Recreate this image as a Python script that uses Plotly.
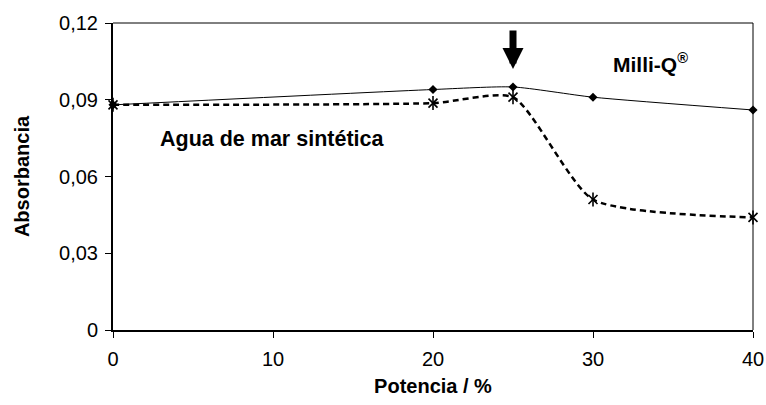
import plotly.graph_objects as go

# Potencia (%) y absorbancia medida
potencia = [0, 20, 25, 30, 40]
abs_milliq = [0.088, 0.094, 0.095, 0.091, 0.086]
abs_agua_mar = [0.088, 0.0887, 0.091, 0.051, 0.044]

y_ticks = [0, 0.03, 0.06, 0.09, 0.12]
y_tick_text = ["0", "0,03", "0,06", "0,09", "0,12"]
x_ticks = [0, 10, 20, 30, 40]

FONT = "Liberation Sans, Arial, sans-serif"

fig = go.Figure()

# Milli-Q: línea continua suavizada con rombos
fig.add_trace(go.Scatter(
    x=potencia, y=abs_milliq, mode="lines+markers",
    line=dict(color="black", width=1, shape="spline", smoothing=0.6),
    marker=dict(symbol="diamond", size=7, color="black"),
    cliponaxis=False, showlegend=False,
))

# Agua de mar sintética: línea discontinua suavizada con asteriscos
fig.add_trace(go.Scatter(
    x=potencia, y=abs_agua_mar, mode="lines+markers",
    line=dict(color="black", width=2.5, dash="6px,4px", shape="spline", smoothing=0.6),
    marker=dict(symbol="x-thin-open", size=9, color="black",
                line=dict(color="black", width=1.6)),
    cliponaxis=False, showlegend=False,
))
fig.add_trace(go.Scatter(
    x=potencia, y=abs_agua_mar, mode="markers",
    marker=dict(symbol="line-ns-open", size=10, color="black",
                line=dict(color="black", width=1.6)),
    cliponaxis=False, showlegend=False,
))

# Flecha que señala el 25 %
fig.add_annotation(
    x=25, y=0.102, ax=0, ay=-40, xref="x", yref="y",
    showarrow=True, arrowhead=2, arrowwidth=7, arrowsize=0.6,
    arrowcolor="black", text="",
)

fig.add_annotation(
    x=33.6, y=0.1044, xref="x", yref="y", showarrow=False,
    text="<b>Milli-Q<sup>®</sup></b>",
    font=dict(family=FONT, size=21, color="black"),
)
fig.add_annotation(
    x=9.94, y=0.0747, xref="x", yref="y", showarrow=False,
    text="<b>Agua de mar sintética</b>",
    font=dict(family=FONT, size=21.5, color="black"),
)

# Borde fino superior y derecho del área de trazado
fig.add_shape(type="line", xref="paper", yref="paper", x0=0, x1=1, y0=1, y1=1,
              line=dict(color="black", width=1))
fig.add_shape(type="line", xref="paper", yref="paper", x0=1, x1=1, y0=0, y1=1,
              line=dict(color="black", width=1))

fig.update_layout(
    width=766, height=405,
    margin=dict(l=113, r=13, t=23, b=75),
    plot_bgcolor="white", paper_bgcolor="white",
    font=dict(family=FONT, size=20, color="black"),
    xaxis=dict(
        range=[0, 40], tickvals=x_ticks, showgrid=False, zeroline=False,
        showline=True, linecolor="black", linewidth=2, automargin=False,
        ticks="outside", ticklen=6, tickwidth=1, tickcolor="black",
        tickfont=dict(size=20), ticklabelstandoff=4,
        title=dict(text="<b>Potencia / %</b>", font=dict(size=20), standoff=10),
    ),
    yaxis=dict(
        range=[0, 0.12], tickvals=y_ticks, ticktext=y_tick_text,
        showgrid=False, zeroline=False, automargin=False,
        showline=True, linecolor="black", linewidth=2,
        ticks="outside", ticklen=6, tickwidth=1, tickcolor="black",
        tickfont=dict(size=20), ticklabelstandoff=3,
        title=dict(text="<b>Absorbancia</b>", font=dict(size=20), standoff=24),
    ),
)

fig.write_html("out.html")
